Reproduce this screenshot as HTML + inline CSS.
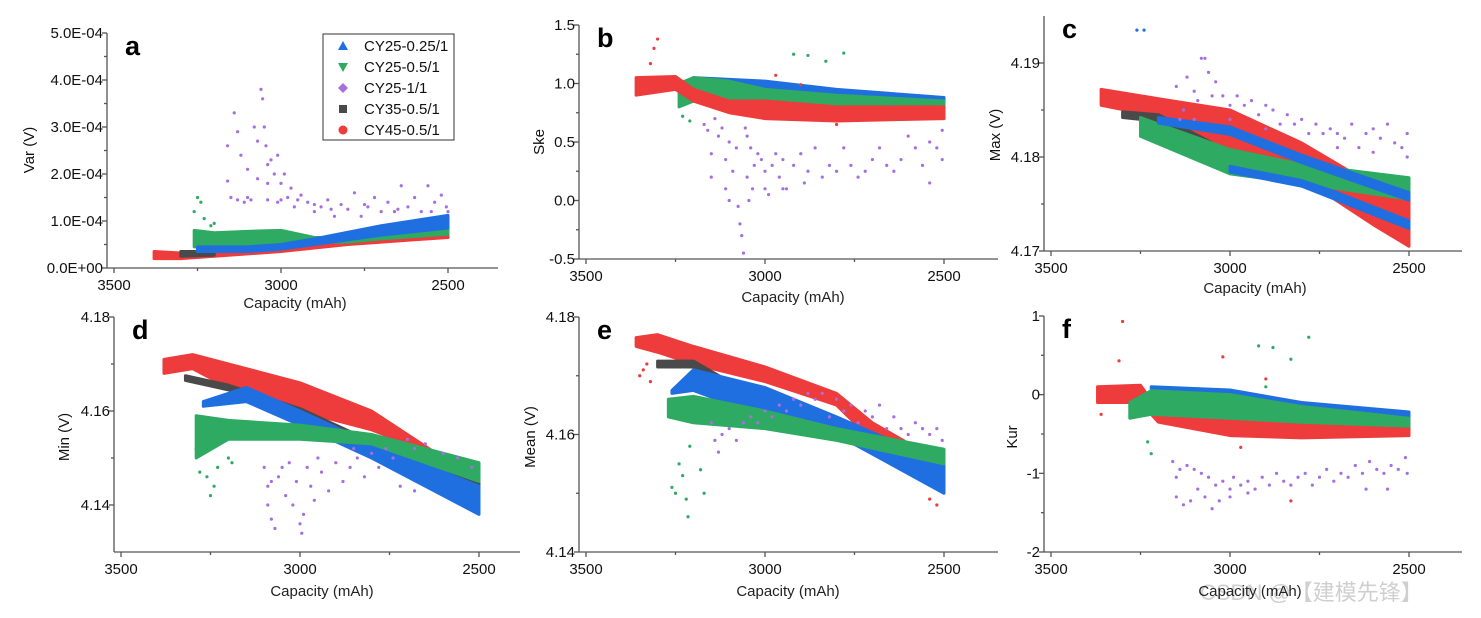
<!DOCTYPE html>
<html><head><meta charset="utf-8"><style>
html,body{margin:0;padding:0;background:#fff;}
svg{display:block;font-family:"Liberation Sans","Noto Sans CJK SC",sans-serif;}
</style></head><body>
<svg id="fig" width="1481" height="618" viewBox="0 0 1481 618" xmlns="http://www.w3.org/2000/svg">
<text x="1200" y="600" font-size="22" fill="#cfcfcf">CSDN @【建模先锋】</text>
</svg>
<script>
const COLORS={blue:'#1f6fe0',green:'#2eaa63',purple:'#a66fe0',black:'#4a4a4a',red:'#ee3b3b'};
// ---- panel a (Var, ×1e-4) ----
const aRedCap=[3380,3300,3200,3000,2800,2600,2500], aRedLo=[0.2,0.2,0.25,0.35,0.5,0.6,0.65], aRedHi=[0.35,0.32,0.35,0.45,0.6,0.72,0.8];
const aBlkCap=[3300,3200], aBlkLo=[0.25,0.27], aBlkHi=[0.35,0.35];
const aGrnCap=[3260,3200,3100,3000,2900,2800,2700,2500], aGrnLo=[0.45,0.45,0.45,0.5,0.55,0.55,0.62,0.72], aGrnHi=[0.8,0.75,0.78,0.8,0.65,0.65,0.75,0.95];
const aBluCap=[3250,3100,3000,2900,2700,2500], aBluLo=[0.35,0.35,0.4,0.5,0.7,0.85], aBluHi=[0.45,0.45,0.5,0.62,0.9,1.12];
const aPurple=[[3160,2.6],[3160,1.85],[3150,1.5],[3140,3.3],[3130,2.9],[3120,2.4],[3110,1.4],[3100,2.1],[3090,1.45],[3080,3.0],[3070,1.9],[3060,3.8],[3055,3.6],[3050,3.0],[3045,2.6],[3040,1.8],[3040,1.45],[3030,2.3],[3020,2.0],[3010,1.4],[3000,1.8],[2990,2.0],[2980,1.5],[2970,1.7],[2960,1.3],[2940,1.55],[2920,1.4],[2900,1.2],[2880,1.3],[2860,1.45],[2840,1.1],[2820,1.35],[2800,1.25],[2780,1.6],[2760,1.1],[2740,1.3],[2720,1.5],[2700,1.2],[2680,1.4],[2660,1.2],[2640,1.75],[2620,1.3],[2600,1.5],[2580,1.2],[2560,1.75],[2540,1.4],[2520,1.55],[2505,1.3],[2500,1.2],[3130,1.45],[3100,1.5],[3000,1.45],[2950,1.45],[2900,1.35],[2850,1.25],[2750,1.35],[2650,1.25],[2550,1.2],[3070,2.7],[3040,2.2],[3010,2.4]];
const aGreenOut=[[3260,1.2],[3250,1.5],[3240,1.4],[3210,0.9],[3200,0.95],[3230,1.05]];
// ---- panel b (Ske) ----
const bBluCap=[3200,3000,2800,2500], bBluLo=[0.9,0.88,0.82,0.8], bBluHi=[1.05,1.02,0.95,0.88];
const bGrnCap=[3240,3200,3100,3000,2800,2500], bGrnLo=[0.8,0.85,0.85,0.8,0.8,0.75], bGrnHi=[1.0,1.05,1.02,0.95,0.9,0.85];
const bRedCap=[3360,3250,3200,3100,3000,2800,2500], bRedLo=[0.9,0.95,0.85,0.75,0.7,0.68,0.7], bRedHi=[1.05,1.06,0.95,0.85,0.85,0.8,0.8];
const bPurple=[[3170,0.65],[3160,0.6],[3150,0.4],[3150,0.2],[3140,0.7],[3130,0.55],[3120,0.62],[3110,0.35],[3110,0.1],[3100,0.5],[3100,0.0],[3090,0.25],[3080,0.45],[3075,-0.05],[3070,-0.2],[3065,-0.3],[3060,-0.45],[3055,0.62],[3050,0.55],[3045,0.0],[3040,0.45],[3035,0.1],[3030,0.3],[3020,0.4],[3010,0.35],[3000,0.25],[2990,0.05],[2980,0.3],[2970,0.4],[2960,0.2],[2950,0.35],[2940,0.1],[2920,0.3],[2900,0.4],[2890,0.15],[2880,0.25],[2860,0.45],[2840,0.2],[2820,0.3],[2800,0.25],[2780,0.45],[2760,0.3],[2740,0.2],[2720,0.25],[2700,0.35],[2680,0.45],[2660,0.3],[2640,0.25],[2620,0.35],[2600,0.55],[2580,0.45],[2560,0.3],[2540,0.5],[2520,0.45],[2505,0.6],[2505,0.35],[2540,0.15],[3050,0.2],[3000,0.1],[2950,0.1]];
const bGreenOut=[[2920,1.25],[2880,1.24],[2830,1.19],[2780,1.26],[3230,0.72],[3210,0.68]];
const bRedOut=[[3300,1.38],[3310,1.3],[3320,1.17],[2970,1.07],[2900,0.99],[2800,0.65]];
// ---- panel c (Max) ----
const cRedCap=[3360,3200,3000,2800,2600,2500], cRedHi=[4.1872,4.1862,4.1850,4.1815,4.1770,4.1755], cRedLo=[4.1855,4.1843,4.1808,4.1778,4.1728,4.1705];
const cBlkCap=[3300,3200,3050], cBlkHi=[4.1848,4.1845,4.1815], cBlkLo=[4.1842,4.1838,4.1808];
const cGrnCap=[3250,3000,2800,2500], cGrnHi=[4.1842,4.1808,4.1792,4.1778], cGrnLo=[4.1822,4.1782,4.1772,4.1755];
const cBluCap=[3200,3000,2800,2500], cBluHi=[4.1842,4.1832,4.1802,4.1762], cBluLo=[4.1836,4.1824,4.1794,4.1754];
const cBlu2Cap=[3000,2800,2700,2500], cBlu2Hi=[4.1790,4.1775,4.1762,4.1732], cBlu2Lo=[4.1784,4.1769,4.1754,4.1724];
const cPurple=[[3150,4.1875],[3130,4.185],[3120,4.1885],[3100,4.187],[3090,4.186],[3080,4.1905],[3070,4.1905],[3060,4.189],[3050,4.1865],[3040,4.188],[3020,4.1865],[3000,4.1855],[2980,4.1865],[2960,4.1855],[2940,4.186],[2920,4.1845],[2900,4.1855],[2880,4.185],[2860,4.1835],[2840,4.1845],[2820,4.1835],[2800,4.184],[2780,4.1825],[2760,4.1835],[2740,4.1825],[2720,4.183],[2700,4.1825],[2680,4.182],[2660,4.1835],[2640,4.181],[2620,4.1825],[2600,4.1805],[2580,4.182],[2560,4.1835],[2540,4.1815],[2520,4.181],[2505,4.1825],[2505,4.180],[3140,4.184],[3100,4.184],[3000,4.184],[2900,4.183],[2700,4.181],[2600,4.183]];
const cBlueOut=[[3260,4.1935],[3240,4.1935]];
// ---- panel d (Min) ----
const dRedCap=[3380,3300,3200,3000,2800,2700,2500], dRedHi=[4.171,4.172,4.170,4.166,4.160,4.155,4.145], dRedLo=[4.168,4.169,4.165,4.160,4.156,4.153,4.142];
const dBlkCap=[3320,3200,3000,2800,2500], dBlkHi=[4.1675,4.1655,4.1605,4.1535,4.1445], dBlkLo=[4.1665,4.1645,4.1595,4.1525,4.1435];
const dBluCap=[3270,3150,3000,2800,2500], dBluHi=[4.162,4.165,4.160,4.153,4.144], dBluLo=[4.161,4.162,4.157,4.150,4.138];
const dGrnCap=[3290,3200,3000,2800,2500], dGrnHi=[4.159,4.158,4.157,4.155,4.149], dGrnLo=[4.150,4.154,4.154,4.153,4.145];
const dPurple=[[3100,4.148],[3090,4.144],[3090,4.140],[3080,4.137],[3070,4.135],[3060,4.146],[3050,4.148],[3040,4.142],[3020,4.140],[3010,4.145],[3000,4.136],[2995,4.134],[2990,4.138],[2980,4.148],[2970,4.144],[2960,4.141],[2940,4.147],[2920,4.143],[2900,4.149],[2880,4.145],[2860,4.148],[2840,4.150],[2820,4.146],[2800,4.151],[2780,4.148],[2760,4.152],[2740,4.150],[2700,4.154],[2680,4.152],[2650,4.153],[2600,4.151],[2560,4.150],[2520,4.148],[3080,4.145],[3030,4.149],[2950,4.150],[2850,4.152],[2720,4.144],[2680,4.143]];
const dGreenOut=[[3280,4.147],[3260,4.146],[3240,4.144],[3250,4.142],[3230,4.148],[3200,4.150],[3190,4.149],[3290,4.152]];
// ---- panel e (Mean) ----
const eRedCap=[3360,3300,3200,3000,2800,2700,2500], eRedHi=[4.1765,4.177,4.175,4.1715,4.167,4.162,4.155], eRedLo=[4.175,4.174,4.172,4.169,4.165,4.159,4.152];
const eBlkCap=[3300,3200,3000,2900], eBlkHi=[4.1725,4.1725,4.1655,4.1635], eBlkLo=[4.1715,4.1715,4.1645,4.1625];
const eBluCap=[3260,3200,3000,2800,2500], eBluHi=[4.1675,4.171,4.168,4.163,4.155], eBluLo=[4.167,4.1675,4.163,4.160,4.150];
const eGrnCap=[3270,3200,3000,2800,2500], eGrnHi=[4.166,4.1665,4.164,4.161,4.1575], eGrnLo=[4.163,4.162,4.161,4.159,4.155];
const ePurple=[[3150,4.162],[3140,4.159],[3130,4.157],[3120,4.160],[3100,4.161],[3080,4.159],[3060,4.162],[3040,4.163],[3020,4.162],[3000,4.164],[2980,4.163],[2960,4.165],[2940,4.164],[2920,4.166],[2900,4.165],[2880,4.167],[2860,4.166],[2840,4.167],[2820,4.163],[2800,4.166],[2780,4.164],[2760,4.165],[2740,4.162],[2720,4.164],[2700,4.163],[2680,4.165],[2660,4.161],[2640,4.163],[2620,4.161],[2600,4.160],[2580,4.162],[2560,4.161],[2540,4.160],[2520,4.161],[2505,4.159]];
const eGreenOut=[[3250,4.150],[3240,4.155],[3230,4.153],[3220,4.149],[3215,4.146],[3210,4.158],[3180,4.154],[3170,4.150],[3260,4.151]];
const eRedOut=[[3350,4.170],[3340,4.171],[3320,4.169],[3330,4.172],[2540,4.149],[2520,4.148]];
// ---- panel f (Kur) ----
const fRedCap=[3370,3250,3200,3000,2800,2500], fRedHi=[0.1,0.12,-0.2,-0.3,-0.3,-0.35], fRedLo=[-0.1,-0.1,-0.35,-0.52,-0.55,-0.52];
const fBluCap=[3220,3000,2800,2500], fBluHi=[0.1,0.06,-0.1,-0.22], fBluLo=[-0.1,-0.15,-0.25,-0.3];
const fGrnCap=[3280,3220,3000,2800,2500], fGrnHi=[-0.1,0.05,0,-0.15,-0.3], fGrnLo=[-0.3,-0.25,-0.3,-0.35,-0.4];
const fPurple=[[3160,-0.85],[3150,-1.05],[3150,-1.3],[3140,-0.95],[3130,-1.4],[3120,-0.9],[3110,-1.35],[3100,-0.95],[3090,-1.2],[3080,-1.0],[3070,-1.3],[3060,-1.05],[3050,-1.45],[3040,-1.15],[3030,-1.35],[3020,-1.1],[3000,-1.2],[2990,-1.05],[2970,-1.15],[2950,-1.1],[2930,-1.2],[2910,-1.05],[2890,-1.15],[2870,-1.0],[2850,-1.1],[2830,-1.15],[2810,-1.05],[2790,-1.0],[2770,-1.15],[2750,-1.05],[2730,-0.95],[2710,-1.1],[2690,-1.0],[2670,-1.05],[2650,-0.9],[2630,-1.0],[2610,-0.85],[2590,-0.95],[2570,-1.0],[2550,-0.9],[2530,-0.95],[2510,-0.8],[2505,-1.0],[2620,-1.2],[2560,-1.2],[2950,-1.25],[3000,-1.3]];
const fGreenOut=[[2920,0.62],[2880,0.6],[2830,0.45],[2780,0.73],[2900,0.1],[3230,-0.6],[3220,-0.75]];
const fRedOut=[[3300,0.93],[3310,0.43],[3020,0.48],[2900,0.2],[3360,-0.25],[2830,-1.35],[2970,-0.67]];
const xTicks=[3500,3000,2500];

const svg=document.getElementById('fig');
const NS='http://www.w3.org/2000/svg';
function mk(tag,attrs,parent){const e=document.createElementNS(NS,tag);for(const k in attrs)e.setAttribute(k,attrs[k]);(parent||svg).appendChild(e);return e;}

function panel(p){
  const g=mk('g',{});
  
  
  const X=c=>p.x3500+(3500-c)*(p.x2500-p.x3500)/1000;
  const Y=v=>p.yb-(v-p.vmin)/(p.vmax-p.vmin)*(p.yb-p.yt);
  p.bands.forEach(b=>{
    const up=b.cap.map((c,i)=>X(c)+','+Y(b.hi[i]));
    const dn=[];for(let i=b.cap.length-1;i>=0;i--)dn.push(X(b.cap[i])+','+Y(b.lo[i]));
    const poly=mk('polygon',{points:up.concat(dn).join(' '),fill:COLORS[b.col],stroke:COLORS[b.col],'stroke-width':3,'stroke-linejoin':'round'},g);
    
    
  });
  p.pts.forEach(s=>{
    s.data.forEach(d=>{
      const c=mk('circle',{cx:X(d[0]),cy:Y(d[1]),r:1.6,fill:COLORS[s.col]},g);
      
      
    });
  });
  const ax=mk('g',{stroke:'#555','stroke-width':1.3},g);
  
  
  mk('line',{x1:p.xl,y1:p.yt,x2:p.xl,y2:p.yb},ax);
  mk('line',{x1:p.xl,y1:p.yb,x2:p.xr,y2:p.yb},ax);
  [3500,3250,3000,2750,2500].forEach((c,i)=>mk('line',{x1:X(c),y1:p.yb,x2:X(c),y2:p.yb+(i%2?3:5)},ax));
  xTicks.forEach(c=>{const t=mk('text',{x:X(c),y:p.yb+22,'font-size':15,'text-anchor':'middle',fill:'#111'},g);t.textContent=c;
    });
  p.yticks.forEach(v=>{mk('line',{x1:p.xl-5,y1:Y(v),x2:p.xl,y2:Y(v)},ax);
    const t=mk('text',{x:p.xl-4,y:Y(v)+5,'font-size':15,'text-anchor':'end',fill:'#111'},g);t.textContent=p.fmt(v);
    });
  p.yminor.forEach(v=>mk('line',{x1:p.xl-3,y1:Y(v),x2:p.xl,y2:Y(v)},ax));
  const xt=mk('text',{x:p.xtx,y:p.xty,'font-size':15,'text-anchor':'middle',fill:'#222'},g);xt.textContent='Capacity (mAh)';
  
  const yt=mk('text',{x:0,y:0,'font-size':15,'text-anchor':'middle',fill:'#111',transform:`translate(${p.ytx},${p.yty}) rotate(-90)`},g);yt.textContent=p.ytitle;
  
  const lt=mk('text',{x:p.xl+18,y:p.yt+22,'font-size':27,'font-weight':'bold',fill:'#000'},g);lt.textContent=p.id;
  
}
const B=(col,cap,lo,hi)=>({col,cap,lo,hi});
const rng=(a,b,s)=>{const r=[];for(let v=a;v<=b+1e-9;v+=s)r.push(+v.toFixed(4));return r;};

panel({id:'a',xl:107,xr:498,yt:33,yb:268,x3500:114,x2500:448,vmin:0,vmax:5,
  yticks:[0,1,2,3,4,5],yminor:rng(0.5,4.5,1),fmt:v=>v===0?'0.0E+00':v.toFixed(1)+'E-04',
  bands:[B('red',aRedCap,aRedLo,aRedHi),B('black',aBlkCap,aBlkLo,aBlkHi),B('green',aGrnCap,aGrnLo,aGrnHi),B('blue',aBluCap,aBluLo,aBluHi)],
  pts:[{col:'purple',data:aPurple},{col:'green',data:aGreenOut}],
  xtx:295,xty:308,ytitle:'Var (V)',ytx:34,yty:150});
panel({id:'b',xl:579,xr:998,yt:25,yb:259,x3500:586,x2500:944,vmin:-0.5,vmax:1.5,
  yticks:[-0.5,0,0.5,1,1.5],yminor:rng(-0.25,1.25,0.5),fmt:v=>v.toFixed(1),
  bands:[B('blue',bBluCap,bBluLo,bBluHi),B('green',bGrnCap,bGrnLo,bGrnHi),B('red',bRedCap,bRedLo,bRedHi)],
  pts:[{col:'purple',data:bPurple},{col:'green',data:bGreenOut},{col:'red',data:bRedOut}],
  xtx:793,xty:302,ytitle:'Ske',ytx:544,yty:142});
panel({id:'c',xl:1044,xr:1462,yt:16,yb:251,x3500:1051,x2500:1409,vmin:4.17,vmax:4.195,
  yticks:[4.17,4.18,4.19],yminor:[4.175,4.185],fmt:v=>v.toFixed(2),
  bands:[B('red',cRedCap,cRedLo,cRedHi),B('black',cBlkCap,cBlkLo,cBlkHi),B('green',cGrnCap,cGrnLo,cGrnHi),B('blue',cBluCap,cBluLo,cBluHi),B('blue',cBlu2Cap,cBlu2Lo,cBlu2Hi)],
  pts:[{col:'purple',data:cPurple},{col:'blue',data:cBlueOut}],
  xtx:1255,xty:293,ytitle:'Max (V)',ytx:1000,yty:135});
panel({id:'d',xl:114,xr:520,yt:317,yb:552,x3500:121,x2500:479,vmin:4.13,vmax:4.18,
  yticks:[4.14,4.16,4.18],yminor:[4.15,4.17],fmt:v=>v.toFixed(2),
  bands:[B('red',dRedCap,dRedLo,dRedHi),B('black',dBlkCap,dBlkLo,dBlkHi),B('blue',dBluCap,dBluLo,dBluHi),B('green',dGrnCap,dGrnLo,dGrnHi)],
  pts:[{col:'purple',data:dPurple},{col:'green',data:dGreenOut}],
  xtx:322,xty:596,ytitle:'Min (V)',ytx:69,yty:437});
panel({id:'e',xl:579,xr:998,yt:317,yb:552,x3500:586,x2500:944,vmin:4.14,vmax:4.18,
  yticks:[4.14,4.16,4.18],yminor:[4.15,4.17],fmt:v=>v.toFixed(2),
  bands:[B('red',eRedCap,eRedLo,eRedHi),B('black',eBlkCap,eBlkLo,eBlkHi),B('blue',eBluCap,eBluLo,eBluHi),B('green',eGrnCap,eGrnLo,eGrnHi)],
  pts:[{col:'purple',data:ePurple},{col:'green',data:eGreenOut},{col:'red',data:eRedOut}],
  xtx:788,xty:596,ytitle:'Mean (V)',ytx:535,yty:437});
panel({id:'f',xl:1044,xr:1462,yt:316,yb:552,x3500:1051,x2500:1409,vmin:-2,vmax:1,
  yticks:[-2,-1,0,1],yminor:[-1.5,-0.5,0.5],fmt:v=>String(v),
  bands:[B('red',fRedCap,fRedLo,fRedHi),B('blue',fBluCap,fBluLo,fBluHi),B('green',fGrnCap,fGrnLo,fGrnHi)],
  pts:[{col:'purple',data:fPurple},{col:'green',data:fGreenOut},{col:'red',data:fRedOut}],
  xtx:1250,xty:596,ytitle:'Kur',ytx:1017,yty:437});

const legNames=['CY25-0.25/1','CY25-0.5/1','CY25-1/1','CY35-0.5/1','CY45-0.5/1'];
const legCols=['blue','green','purple','black','red'];
const lg=mk('g',{});


mk('rect',{x:323,y:34,width:131,height:106,fill:'#fff',stroke:'#333','stroke-width':1},lg);
legNames.forEach((n,i)=>{
  const y=46+i*21, x=343, c=COLORS[legCols[i]];
  let m;
  if(i===0)m=mk('polygon',{points:`${x-5},${y+4} ${x+5},${y+4} ${x},${y-5}`,fill:c},lg);
  else if(i===1)m=mk('polygon',{points:`${x-5},${y-4} ${x+5},${y-4} ${x},${y+5}`,fill:c},lg);
  else if(i===2)m=mk('polygon',{points:`${x},${y-5} ${x+5},${y} ${x},${y+5} ${x-5},${y}`,fill:c},lg);
  else if(i===3)m=mk('rect',{x:x-4,y:y-4,width:8,height:8,fill:c},lg);
  else m=mk('circle',{cx:x,cy:y,r:4.5,fill:c},lg);
  
  
  const t=mk('text',{x:364,y:y+5,'font-size':15,fill:'#111'},lg);t.textContent=n;
  
  
});
</script>
</body></html>
